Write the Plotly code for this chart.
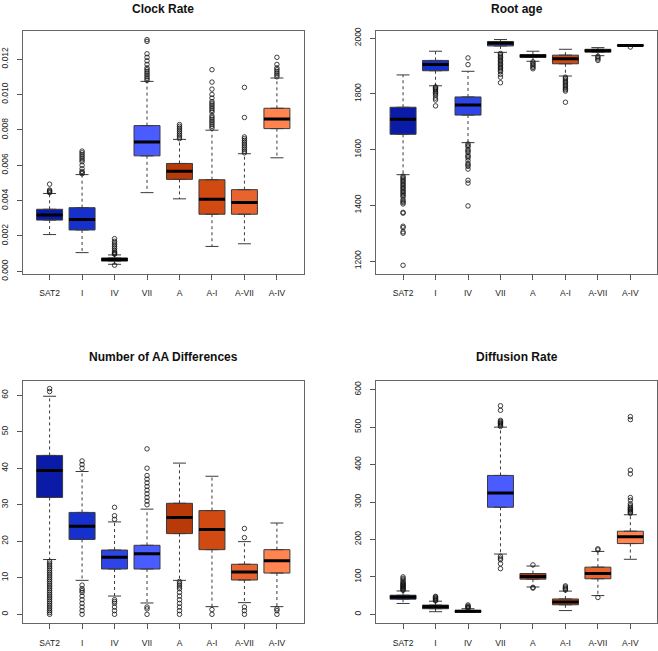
import plotly.graph_objects as go

categories = ["SAT2", "I", "IV", "VII", "A", "A-I", "A-VII", "A-IV"]
colors = ["#0A1BA8", "#1530CC", "#2D45E6", "#4A5CFF", "#B83A08", "#D04A12", "#E8632E", "#FF8450"]

# ---- Clock Rate ----
clock_q1 = [0.00290, 0.00234, 0.00058, 0.00653, 0.00520, 0.00323, 0.00323, 0.00807]
clock_med = [0.00319, 0.00293, 0.00067, 0.00731, 0.00566, 0.00408, 0.00390, 0.00861]
clock_q3 = [0.00351, 0.00360, 0.00076, 0.00824, 0.00610, 0.00518, 0.00462, 0.00922]
clock_lo = [0.00208, 0.00106, 0.00040, 0.00445, 0.00410, 0.00141, 0.00156, 0.00642]
clock_hi = [0.00440, 0.00547, 0.00093, 0.01074, 0.00746, 0.00798, 0.00665, 0.01093]
clock_out = [
    [0.00445, 0.0045, 0.00455, 0.0046, 0.00493],
    [0.00552, 0.00558, 0.00565, 0.0058, 0.0060, 0.0062, 0.0063, 0.0064, 0.0065, 0.0066, 0.0067, 0.0068],
    [0.00035, 0.00097, 0.0010, 0.00105, 0.0011, 0.0012, 0.0013, 0.0014, 0.0015, 0.0016, 0.0017, 0.00185],
    [0.0108, 0.0109, 0.0110, 0.0111, 0.0112, 0.0113, 0.0114, 0.0115, 0.0117, 0.0119, 0.0121, 0.0123, 0.0130, 0.0131],
    [0.0075, 0.0076, 0.0077, 0.0078, 0.0079, 0.0080, 0.0081, 0.0082, 0.0083],
    [0.0081, 0.0082, 0.0083, 0.0084, 0.0085, 0.0086, 0.0087, 0.0088, 0.0090, 0.0091, 0.0092, 0.0093,
     0.0094, 0.0095, 0.0096, 0.0098, 0.0100, 0.0103, 0.0107, 0.0114],
    [0.0067, 0.0068, 0.0069, 0.0070, 0.0071, 0.0072, 0.0073, 0.0074, 0.0075, 0.0076, 0.0087, 0.0104],
    [0.0110, 0.0111, 0.0112, 0.0113, 0.0114, 0.0115, 0.0117, 0.0121],
]

# ---- Root age ----
root_q1 = [1655, 1883, 1724, 1972, 1931, 1908, 1950, 1972]
root_med = [1709, 1905, 1760, 1982, 1936, 1926, 1955, 1974]
root_q3 = [1752, 1920, 1789, 1988, 1941, 1939, 1960, 1976]
root_lo = [1510, 1829, 1625, 1949, 1917, 1864, 1937, 1971]
root_hi = [1868, 1953, 1881, 1995, 1953, 1960, 1966, 1977]
root_out = [
    [1505, 1500, 1495, 1490, 1485, 1480, 1475, 1470, 1465, 1460, 1455, 1450, 1445, 1440, 1435, 1430,
     1420, 1415, 1410, 1405, 1375, 1372, 1325, 1320, 1305, 1300, 1185],
    [1825, 1822, 1818, 1815, 1810, 1805, 1800, 1795, 1785, 1778, 1757],
    [1905, 1929, 1620, 1615, 1610, 1600, 1595, 1590, 1580, 1575, 1570, 1560, 1550, 1545, 1540,
     1530, 1490, 1480, 1398],
    [1945, 1940, 1935, 1930, 1925, 1920, 1915, 1910, 1905, 1900, 1895, 1890, 1885, 1880, 1870, 1860, 1840],
    [1915, 1910, 1905, 1900, 1895, 1890],
    [1860, 1855, 1850, 1845, 1840, 1835, 1830, 1825, 1820, 1815, 1810, 1770],
    [1935, 1930, 1925, 1920],
    [1968],
]

# ---- Number of AA Differences ----
aa_q1 = [32.0, 20.5, 12.4, 12.4, 22.1, 17.7, 9.4, 11.3]
aa_med = [39.4, 24.1, 15.6, 16.6, 26.5, 23.2, 11.6, 14.7]
aa_q3 = [43.5, 27.9, 17.6, 18.9, 30.4, 28.4, 13.7, 17.7]
aa_lo = [15.0, 9.3, 5.0, 3.1, 9.3, 2.1, 3.2, 2.1]
aa_hi = [59.7, 39.1, 25.3, 28.8, 41.4, 37.8, 19.9, 25.0]
aa_out = [
    [61.0, 61.8, 14.5, 14, 13.5, 13, 12.5, 12, 11.5, 11, 10.5, 10, 9.5, 9, 8.5, 8, 7.5, 7, 6.5, 6,
     5.5, 5, 4.5, 4, 3.5, 3, 2.5, 2, 1.5, 1, 0.5, 0],
    [40, 41, 42, 8, 7, 6.5, 6, 5, 4, 3, 2, 1, 0],
    [26, 27, 29.3, 4, 3.5, 3, 2, 1, 0],
    [30, 31, 32, 33, 34, 35, 36, 37, 38, 40, 45.3, 2, 1.5, 0],
    [9, 8.5, 8, 7.5, 7, 6, 5, 4, 3, 2, 1, 0],
    [1.3, 0],
    [21, 23.5, 2, 1, 0],
    [1.5, 1, 0],
]

# ---- Diffusion Rate ----
diff_q1 = [40.5, 15.0, 5.3, 286, 94, 25.5, 95, 189]
diff_med = [46.0, 20.2, 8.0, 324, 101, 33.0, 109, 207]
diff_q3 = [51.0, 24.6, 10.5, 371, 109, 41.0, 126, 222]
diff_lo = [29.0, 7.0, 5.0, 161, 73, 10.0, 50, 147]
diff_hi = [62.4, 35.0, 15.0, 500, 129, 62.0, 168, 266]
diff_out = [
    [64, 66, 68, 70, 72, 74, 76, 78, 80, 82, 85, 88, 92, 96, 100],
    [36, 38, 40, 42, 44, 46, 48],
    [16, 18, 20, 22, 25],
    [502, 505, 508, 510, 512, 515, 518, 545, 557, 155, 150, 146, 135, 122],
    [70, 72, 132],
    [65, 68, 70, 73, 76],
    [172, 175, 45],
    [270, 272, 275, 278, 280, 283, 286, 290, 295, 305, 312, 375, 385, 520, 528],
]

titles = ["Clock Rate", "Root age", "Number of AA Differences", "Diffusion Rate"]
panels = [
    (clock_q1, clock_med, clock_q3, clock_lo, clock_hi, clock_out),
    (root_q1, root_med, root_q3, root_lo, root_hi, root_out),
    (aa_q1, aa_med, aa_q3, aa_lo, aa_hi, aa_out),
    (diff_q1, diff_med, diff_q3, diff_lo, diff_hi, diff_out),
]
y_ranges = [[-0.00016, 0.01361], [1153, 2027], [-2.46, 63.96], [-24, 624]]
y_ticks = [[0, 0.002, 0.004, 0.006, 0.008, 0.010, 0.012],
           [1200, 1400, 1600, 1800, 2000],
           [0, 10, 20, 30, 40, 50, 60],
           [0, 100, 200, 300, 400, 500, 600]]
y_formats = [".3f", "d", "d", "d"]

W, H = 658, 651
x_domains = [[22 / W, 303 / W], [376 / W, 657 / W], [22 / W, 303 / W], [376 / W, 657 / W]]
y_domains = [[1 - 275 / H, 1 - 28 / H], [1 - 275 / H, 1 - 28 / H],
             [1 - 629 / H, 1 - 383 / H], [1 - 629 / H, 1 - 383 / H]]
title_pos = [(162.5 / W, 1 - 6 / H), (516.5 / W, 1 - 6 / H),
             (162.5 / W, 1 - 359 / H), (516.5 / W, 1 - 359 / H)]

pos = list(range(1, len(categories) + 1))
BOXW = 0.8
CAPW = 0.2
edge = "#3a3a3a"

fig = go.Figure()
layout = dict(
    width=W, height=H, margin=dict(l=0, r=0, t=0, b=0),
    paper_bgcolor="white", plot_bgcolor="white", showlegend=False,
    font=dict(family="Liberation Sans, Arial, sans-serif", color="#222"),
)
annotations = []

for p, (q1, med, q3, lo, hi, outs) in enumerate(panels):
    xa = "x" if p == 0 else f"x{p+1}"
    ya = "y" if p == 0 else f"y{p+1}"
    for i in range(len(categories)):
        xi = pos[i]
        fig.add_trace(go.Scatter(
            x=[xi, xi, None, xi, xi], y=[q3[i], hi[i], None, q1[i], lo[i]],
            mode="lines", line=dict(color=edge, width=1, dash="3px,3px"),
            xaxis=xa, yaxis=ya, hoverinfo="skip"))
        fig.add_trace(go.Scatter(
            x=[xi - CAPW, xi + CAPW, None, xi - CAPW, xi + CAPW],
            y=[hi[i], hi[i], None, lo[i], lo[i]],
            mode="lines", line=dict(color=edge, width=1),
            xaxis=xa, yaxis=ya, hoverinfo="skip"))
        fig.add_trace(go.Box(
            x=[xi], q1=[q1[i]], median=[med[i]], q3=[q3[i]],
            lowerfence=[q1[i]], upperfence=[q3[i]], width=BOXW,
            fillcolor=colors[i], line=dict(color=edge, width=1),
            xaxis=xa, yaxis=ya, boxpoints=False, name=categories[i]))
        fig.add_trace(go.Scatter(
            x=[xi - BOXW / 2, xi + BOXW / 2], y=[med[i], med[i]],
            mode="lines", line=dict(color="black", width=3),
            xaxis=xa, yaxis=ya, hoverinfo="skip"))
        fig.add_trace(go.Scatter(
            x=[xi] * len(outs[i]), y=outs[i], mode="markers",
            marker=dict(symbol="circle-open", size=4.5, color="#111", line=dict(width=0.8)),
            xaxis=xa, yaxis=ya, hoverinfo="skip"))

    xkey = "xaxis" if p == 0 else f"xaxis{p+1}"
    ykey = "yaxis" if p == 0 else f"yaxis{p+1}"
    layout[xkey] = dict(
        domain=x_domains[p], anchor=ya, range=[0.18, 8.82],
        tickmode="array", tickvals=pos, ticktext=categories,
        showgrid=False, zeroline=False, showline=True, mirror=True,
        linecolor="#666", linewidth=1, ticks="outside", ticklen=5, tickcolor="#555",
        tickfont=dict(size=8.5, color="#222"), ticklabelstandoff=6)
    layout[ykey] = dict(
        domain=y_domains[p], anchor=xa, range=y_ranges[p],
        tickmode="array", tickvals=y_ticks[p], tickformat=y_formats[p],
        showgrid=False, zeroline=False, showline=True, mirror=True,
        linecolor="#666", linewidth=1, ticks="outside", ticklen=5, tickcolor="#555",
        tickfont=dict(size=8.5, color="#222"), tickangle=-90, ticklabelstandoff=6)
    annotations.append(dict(
        text=f"<b>{titles[p]}</b>", x=title_pos[p][0], y=title_pos[p][1],
        xref="paper", yref="paper", xanchor="center", yanchor="middle",
        showarrow=False, font=dict(size=12, color="#111")))

layout["annotations"] = annotations
fig.update_layout(**layout)
fig.write_html(
    "out.html",
    config={"displayModeBar": False},
    post_script="document.body.style.margin='0';document.body.style.padding='0';document.body.style.overflow='hidden';",
)
